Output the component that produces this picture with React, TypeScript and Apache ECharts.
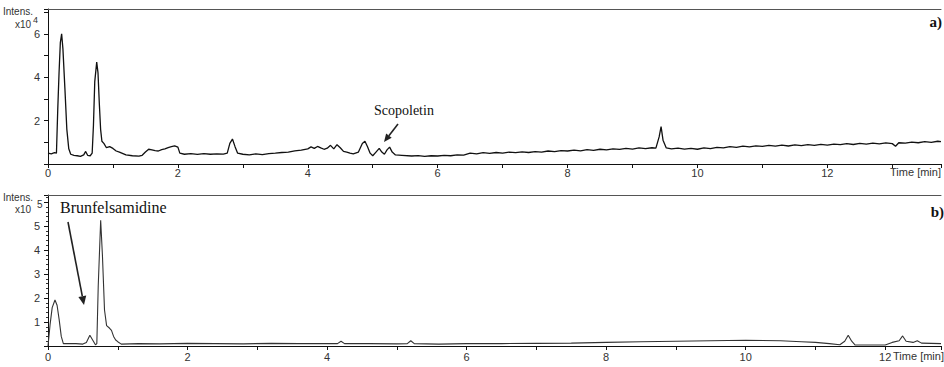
import { useEffect, useRef } from "react";
import * as echarts from "echarts";

// ---- Data: panel a) Intensity (x10^4) vs time (min)
const topTime = [
  0.0, 0.05, 0.1, 0.13, 0.15, 0.17, 0.19, 0.21, 0.23, 0.26, 0.29, 0.32, 0.35, 0.4, 0.45, 0.5, 0.55, 0.58, 0.61, 0.65,
  0.68, 0.7, 0.72, 0.75, 0.77, 0.79, 0.81, 0.83, 0.86, 0.9, 0.95, 1.0, 1.05, 1.1, 1.2, 1.3, 1.4, 1.45, 1.5, 1.55,
  1.6, 1.65, 1.7, 1.75, 1.8, 1.85, 1.9, 1.95, 2.0, 2.03, 2.1, 2.2, 2.3, 2.4, 2.5, 2.6, 2.7, 2.76, 2.8, 2.84,
  2.88, 2.92, 3.0, 3.1, 3.2, 3.3, 3.4, 3.5, 3.6, 3.7, 3.8, 3.9, 4.0, 4.05, 4.1, 4.15, 4.2, 4.25, 4.3, 4.35,
  4.4, 4.45, 4.5, 4.55, 4.6, 4.65, 4.7, 4.78, 4.84, 4.88, 4.92, 4.96, 5.0, 5.05, 5.1, 5.14, 5.18, 5.22, 5.26, 5.3,
  5.35, 5.45, 5.6, 5.7, 5.8, 5.9, 6.0, 6.1, 6.2, 6.3, 6.4, 6.5, 6.6, 6.7, 6.8, 6.9, 7.0, 7.1, 7.2, 7.3,
  7.4, 7.5, 7.6, 7.7, 7.8, 7.9, 8.0, 8.1, 8.2, 8.3, 8.4, 8.5, 8.6, 8.7, 8.8, 8.9, 9.0, 9.1, 9.2, 9.3,
  9.36, 9.41, 9.44, 9.47, 9.52, 9.6, 9.7, 9.8, 9.9, 10.0, 10.1, 10.2, 10.3, 10.4, 10.5, 10.6, 10.7, 10.8, 10.9, 11.0,
  11.1, 11.2, 11.3, 11.4, 11.5, 11.6, 11.7, 11.8, 11.9, 12.0, 12.1, 12.2, 12.3, 12.4, 12.5, 12.6, 12.7, 12.8, 12.9, 13.0,
  13.05, 13.1, 13.2, 13.3, 13.4, 13.5, 13.6, 13.7, 13.75,
];
const topIntens = [
  0.5, 0.47, 0.52, 0.5, 2.5, 4.2, 5.6, 6.0, 5.3, 3.5, 1.6, 0.7, 0.45, 0.4, 0.38, 0.35, 0.42, 0.58, 0.4, 0.38,
  0.5, 1.8, 3.8, 4.7, 4.2, 2.8, 1.6, 1.05, 0.95, 0.75, 0.8, 0.72, 0.6, 0.55, 0.42, 0.38, 0.36, 0.4, 0.55, 0.68,
  0.65, 0.62, 0.6, 0.66, 0.7, 0.76, 0.8, 0.84, 0.78, 0.5, 0.45, 0.48, 0.44, 0.48, 0.45, 0.47, 0.46, 0.5, 0.95, 1.15,
  0.8, 0.5, 0.45, 0.42, 0.47, 0.43, 0.48, 0.5, 0.53, 0.55, 0.61, 0.64, 0.7, 0.79, 0.72, 0.81, 0.74, 0.68, 0.73, 0.86,
  0.7, 0.89, 0.75, 0.58, 0.55, 0.5, 0.47, 0.55, 0.95, 1.05, 0.8, 0.5, 0.38, 0.55, 0.72, 0.55, 0.45, 0.65, 0.78, 0.55,
  0.42, 0.4, 0.37, 0.39, 0.35, 0.38, 0.37, 0.4, 0.38, 0.42, 0.41, 0.5, 0.47, 0.52, 0.49, 0.53, 0.5, 0.55, 0.52, 0.56,
  0.53, 0.57, 0.55, 0.6, 0.57, 0.62, 0.6, 0.64, 0.61, 0.66, 0.63, 0.68, 0.65, 0.7, 0.67, 0.72, 0.69, 0.74, 0.71, 0.75,
  0.73, 1.25, 1.72, 1.1, 0.74, 0.7, 0.73, 0.69, 0.72, 0.68, 0.74, 0.71, 0.77, 0.74, 0.8, 0.77, 0.82, 0.79, 0.84, 0.81,
  0.86, 0.82, 0.87, 0.83, 0.88, 0.85, 0.89, 0.86, 0.91, 0.87, 0.92, 0.89, 0.94, 0.9, 0.95, 0.92, 0.96, 0.93, 0.97, 0.94,
  0.82, 0.98, 0.96, 1.01, 0.98, 1.03, 1.0, 1.05, 1.03,
];

// ---- Data: panel b) Intensity (x10^5) vs time (min)
const botTime = [
  0.0, 0.03, 0.06, 0.1, 0.13, 0.16, 0.19, 0.22, 0.3, 0.4, 0.5, 0.55, 0.6, 0.64, 0.68, 0.7, 0.72, 0.755, 0.78, 0.81,
  0.84, 0.88, 0.91, 0.94, 0.97, 1.0, 1.05, 1.3, 1.6, 2.0, 2.4, 2.8, 3.2, 3.6, 4.0, 4.15, 4.2, 4.25, 4.6, 5.0,
  5.15, 5.2, 5.25, 5.6, 6.0, 6.5, 7.0, 7.5, 8.0, 8.5, 9.0, 9.5, 10.0, 10.5, 10.8, 11.0, 11.2, 11.35, 11.42, 11.47,
  11.52, 11.57, 12.0, 12.1, 12.2, 12.25, 12.3, 12.4, 12.46, 12.52, 12.8,
];
const botIntens = [
  0.0, 0.9, 1.6, 1.92, 1.7, 1.1, 0.4, 0.1, 0.1, 0.1, 0.08, 0.15, 0.45, 0.25, 0.05, 0.1, 2.5, 5.25, 3.8, 1.5,
  0.85, 0.75, 0.65, 0.4, 0.25, 0.18, 0.08, 0.1, 0.09, 0.11, 0.1, 0.09, 0.11, 0.1, 0.1, 0.1, 0.2, 0.1, 0.1, 0.09,
  0.1, 0.22, 0.1, 0.08, 0.1, 0.1, 0.11, 0.12, 0.15, 0.18, 0.2, 0.22, 0.24, 0.22, 0.18, 0.15, 0.1, 0.05, 0.2, 0.45,
  0.2, 0.04, 0.04, 0.15, 0.22, 0.42, 0.2, 0.15, 0.22, 0.12, 0.1,
];

const topLabelTicks = [2, 4, 6];
const botLabelTicks = [1, 2, 3, 4, 5];

const zip = (xs: number[], ys: number[]) => xs.map((x, i) => [x, ys[i]]);

function arrow(x1: number, y1: number, x2: number, y2: number, len: number, half: number) {
  const dx = x2 - x1;
  const dy = y2 - y1;
  const d = Math.hypot(dx, dy);
  const ux = dx / d;
  const uy = dy / d;
  const bx = x2 - ux * len;
  const by = y2 - uy * len;
  const px = -uy * half;
  const py = ux * half;
  return [
    { type: "line", shape: { x1, y1, x2: bx, y2: by }, style: { stroke: "#222", lineWidth: 1.6 } },
    {
      type: "polygon",
      shape: { points: [[x2, y2], [bx + px, by + py], [bx - px, by - py]] },
      style: { fill: "#222" },
    },
  ];
}

export default function App() {
  const ref = useRef<HTMLDivElement>(null);
  useEffect(() => {
    if (!ref.current) return;
    const chart = echarts.init(ref.current, undefined, { renderer: "svg" });
    const sans = "Liberation Sans, Arial, sans-serif";
    const serif = "Liberation Serif, Times New Roman, serif";
    const axisLabelStyle = { color: "#333", fontSize: 11, fontFamily: sans };
    const xLabel = (v: number) => (Math.abs(v % 2) < 1e-9 && v <= 12 ? String(v) : "");
    chart.setOption({
      animation: false,
      backgroundColor: "#fff",
      grid: [
        { left: 48, top: 9, width: 896, height: 155 },
        { left: 48, top: 195, width: 896, height: 151 },
      ],
      xAxis: [
        {
          gridIndex: 0, type: "value", min: 0, max: 13.75, interval: 1,
          axisLine: { show: true, lineStyle: { color: "#111", width: 1 } },
          axisTick: { show: true, length: 4, lineStyle: { color: "#111" } },
          axisLabel: { ...axisLabelStyle, margin: 3, formatter: xLabel },
          splitLine: { show: false },
        },
        {
          gridIndex: 1, type: "value", min: 0, max: 12.8, interval: 1,
          axisLine: { show: true, lineStyle: { color: "#111", width: 1 } },
          axisTick: { show: true, length: 4, lineStyle: { color: "#111" } },
          axisLabel: { ...axisLabelStyle, margin: 5, formatter: xLabel },
          splitLine: { show: false },
        },
        {
          gridIndex: 0, type: "value", position: "top", min: 0, max: 13.75,
          axisLine: { show: true, lineStyle: { color: "#555", width: 1 } },
          axisTick: { show: false }, axisLabel: { show: false }, splitLine: { show: false },
        },
        {
          gridIndex: 1, type: "value", position: "top", min: 0, max: 12.8,
          axisLine: { show: true, lineStyle: { color: "#555", width: 1 } },
          axisTick: { show: false }, axisLabel: { show: false }, splitLine: { show: false },
        },
      ],
      yAxis: [
        {
          gridIndex: 0, type: "value", min: 0, max: 7.15, interval: 1,
          axisLine: { show: true, lineStyle: { color: "#111", width: 1 } },
          axisTick: { show: true, length: 4, lineStyle: { color: "#111" } },
          axisLabel: {
            ...axisLabelStyle, margin: 8,
            formatter: (v: number) => (topLabelTicks.includes(v) ? String(v) : ""),
          },
          splitLine: { show: false },
        },
        {
          gridIndex: 1, type: "value", min: 0, max: 6.3, interval: 1,
          axisLine: { show: true, lineStyle: { color: "#111", width: 1 } },
          axisTick: { show: true, length: 4, lineStyle: { color: "#111" } },
          minorTick: { show: true, splitNumber: 5, length: 2, lineStyle: { color: "#333" } },
          axisLabel: {
            ...axisLabelStyle, margin: 8,
            formatter: (v: number) => (botLabelTicks.includes(v) ? String(v) : ""),
          },
          splitLine: { show: false },
        },
      ],
      series: [
        {
          type: "line", xAxisIndex: 0, yAxisIndex: 0, data: zip(topTime, topIntens),
          showSymbol: false, symbol: "none", lineStyle: { color: "#111", width: 1.3 },
        },
        {
          type: "line", xAxisIndex: 1, yAxisIndex: 1, data: zip(botTime, botIntens),
          showSymbol: false, symbol: "none", lineStyle: { color: "#333", width: 1.1 },
        },
      ],
      graphic: [
        { type: "text", x: 3, y: 6, style: { text: "Intens.", fontSize: 10, fontFamily: sans, fill: "#333" } },
        { type: "text", x: 15, y: 19, style: { text: "x10", fontSize: 10, fontFamily: sans, fill: "#333" } },
        { type: "text", x: 33, y: 15, style: { text: "4", fontSize: 9, fontFamily: sans, fill: "#333" } },
        { type: "text", x: 3, y: 192, style: { text: "Intens.", fontSize: 10, fontFamily: sans, fill: "#333" } },
        { type: "text", x: 15, y: 204, style: { text: "x10", fontSize: 10, fontFamily: sans, fill: "#333" } },
        { type: "text", x: 37, y: 199, style: { text: "5", fontSize: 10, fontFamily: sans, fill: "#333" } },
        { type: "text", x: 941, y: 166, style: { text: "Time [min]", fontSize: 11, fontFamily: sans, fill: "#333", align: "right" } },
        { type: "text", x: 944, y: 350, style: { text: "Time [min]", fontSize: 11, fontFamily: sans, fill: "#333", align: "right" } },
        { type: "text", x: 942, y: 14, style: { text: "a)", fontSize: 15, fontWeight: "bold", fontFamily: serif, fill: "#111", align: "right" } },
        { type: "text", x: 944, y: 204, style: { text: "b)", fontSize: 15, fontWeight: "bold", fontFamily: serif, fill: "#111", align: "right" } },
        { type: "text", x: 374, y: 103, style: { text: "Scopoletin", fontSize: 14, fontFamily: serif, fill: "#111" } },
        { type: "text", x: 60, y: 199, style: { text: "Brunfelsamidine", fontSize: 16, fontFamily: serif, fill: "#111" } },
        ...arrow(398, 124, 384, 142, 8, 3.5),
        ...arrow(68, 222, 84, 305, 9, 4),
      ],
    });
    return () => chart.dispose();
  }, []);
  return (
    <div
      ref={ref}
      style={{ position: "absolute", left: 0, top: 0, width: 944, height: 367, background: "#fff" }}
    />
  );
}
